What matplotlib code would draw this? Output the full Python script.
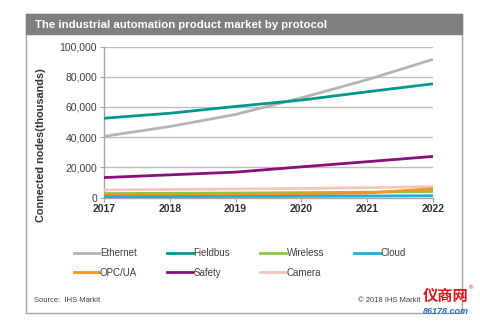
import matplotlib.pyplot as plt
from matplotlib.lines import Line2D
from matplotlib.patches import Rectangle

plt.rcParams["font.family"] = ["Liberation Sans", "DejaVu Sans"]

years = [2017, 2018, 2019, 2020, 2021, 2022]

ethernet = [40500, 47000, 55000, 66000, 78000, 91500]
fieldbus = [52500, 55800, 60300, 64500, 70000, 75300]
wireless = [2600, 2800, 3000, 3200, 3500, 4000]
cloud = [500, 600, 700, 800, 1000, 1200]
opc_ua = [1500, 1700, 1900, 2300, 3000, 5800]
safety = [13200, 15000, 16800, 20300, 23700, 27200]
camera = [5000, 5300, 5600, 6000, 6500, 7200]

y_ticks = [0, 20000, 40000, 60000, 80000, 100000]
y_tick_labels = ["0", "20,000", "40,000", "60,000", "80,000", "100,000"]

series = [
    ("Ethernet", ethernet, "#B4B4B4"),
    ("Fieldbus", fieldbus, "#00978F"),
    ("Wireless", wireless, "#8CC63F"),
    ("Cloud", cloud, "#1BB1E6"),
    ("OPC/UA", opc_ua, "#F7941D"),
    ("Safety", safety, "#8A0F7A"),
    ("Camera", camera, "#F7C3BE"),
]

fig = plt.figure(figsize=(4.8, 3.24), dpi=100)
W, H = 480, 324


def fx(px):
    return px / W


def fy(py):
    return 1 - py / H


# outer frame and title bar
fig.patches.append(Rectangle((fx(26), fy(313)), fx(462) - fx(26), fy(14) - fy(313),
                             transform=fig.transFigure, facecolor="white",
                             edgecolor="#A6A6A6", lw=1.0, zorder=-1))
fig.patches.append(Rectangle((fx(26), fy(34)), fx(462) - fx(26), fy(14) - fy(34),
                             transform=fig.transFigure, facecolor="#7F7F7F",
                             edgecolor="#7F7F7F", lw=1.0, zorder=1))
fig.text(fx(35), fy(24.5), "The industrial automation product market by protocol",
         color="white", fontsize=8.2, fontweight="bold", va="center", ha="left")

ax_left, ax_right, ax_top, ax_bottom = 104, 433, 46.5, 197.5
ax = fig.add_axes([fx(ax_left), fy(ax_bottom), fx(ax_right) - fx(ax_left),
                   fy(ax_top) - fy(ax_bottom)])
ax.set_facecolor("none")
ax.set_zorder(2)

# draw back-to-front so the small series sit on top near zero
draw_order = ["Ethernet", "Fieldbus", "Safety", "Camera", "Wireless", "OPC/UA", "Cloud"]
lookup = {name: (vals, col) for name, vals, col in series}
for i, name in enumerate(draw_order):
    vals, col = lookup[name]
    ax.plot(years, vals, color=col, lw=2.0, solid_capstyle="butt", zorder=3 + i)

ax.set_xlim(2017, 2022)
ax.set_ylim(0, 100000)
ax.set_xticks(years)
ax.set_xticklabels([str(y) for y in years], fontsize=7.5, fontweight="bold", color="#333333")
ax.set_yticks(y_ticks)
ax.set_yticklabels(y_tick_labels, fontsize=7.5, color="#404040")
ax.grid(axis="y", color="#BFBFBF", lw=1.0)
ax.set_axisbelow(True)
for side in ("top", "right"):
    ax.spines[side].set_visible(False)
for side in ("left", "bottom"):
    ax.spines[side].set_color("#A6A6A6")
    ax.spines[side].set_linewidth(1.0)
ax.tick_params(axis="both", length=3, color="#A6A6A6", pad=2)
ax.set_ylabel("Connected nodes(thousands)", fontsize=7.8, fontweight="bold",
              color="#333333", va="center")
# axis title sits low, centred about y=145 px
ax.yaxis.set_label_coords((41 - ax_left) / (ax_right - ax_left),
                          (ax_bottom - 145) / (ax_bottom - ax_top))

# legend in two rows, column-major order
legend_order = ["Ethernet", "OPC/UA", "Fieldbus", "Safety", "Wireless", "Camera", "Cloud"]
handles = [Line2D([], [], color=lookup[n][1], lw=2.0) for n in legend_order]
fig.legend(handles, legend_order, ncol=4, frameon=False, fontsize=7,
           loc="center left", bbox_to_anchor=(fx(65), fy(263)),
           handlelength=2.6, handletextpad=0.1, columnspacing=3.1,
           labelspacing=0.95, labelcolor="#404040")

fig.text(fx(34), fy(301), "Source:  IHS Markit", fontsize=5.5, color="#404040",
         va="center")
fig.text(fx(420), fy(301), "\u00a9 2018 IHS Markit", fontsize=5.5, color="#404040",
         va="center", ha="right")

# site watermark
fig.text(fx(423), fy(296), "仪商网", fontsize=11, fontweight="bold", color="#E8141C",
         family=["Noto Sans CJK SC", "DejaVu Sans"], va="center")
fig.text(fx(469), fy(288), "®", fontsize=4.5, color="#E8141C", va="center")
fig.text(fx(423), fy(312), "86178.com", fontsize=6.5, fontweight="bold", style="italic",
         color="#2C6FBF", va="center")

fig.savefig("out.png", dpi=100)
